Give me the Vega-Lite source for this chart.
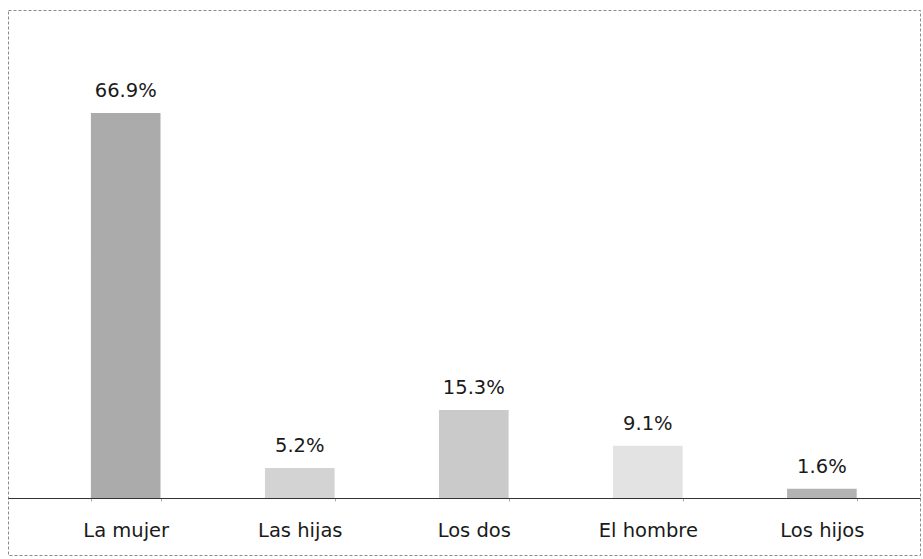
{
  "$schema": "https://vega.github.io/schema/vega-lite/v6.json",
  "width": 912,
  "height": 545,
  "autosize": {"type": "none"},
  "padding": {"left": 8, "top": 10, "right": 3, "bottom": 4},
  "background": "white",
  "config": {
    "view": {"stroke": "#8a8a8a", "strokeDash": [3, 2], "strokeWidth": 1},
    "font": "DejaVu Sans"
  },
  "data": {
    "values": [
      {"cat": "La mujer", "pct": 66.9, "label": "66.9%"},
      {"cat": "Las hijas", "pct": 5.2, "label": "5.2%"},
      {"cat": "Los dos", "pct": 15.3, "label": "15.3%"},
      {"cat": "El hombre", "pct": 9.1, "label": "9.1%"},
      {"cat": "Los hijos", "pct": 1.6, "label": "1.6%"}
    ]
  },
  "encoding": {
    "x": {
      "field": "cat",
      "type": "nominal",
      "sort": null,
      "scale": {"paddingInner": 0.6, "paddingOuter": 0.42, "align": 0.567},
      "axis": {
        "title": null,
        "orient": "bottom",
        "offset": -57,
        "labelAngle": 0,
        "labelFont": "DejaVu Sans",
        "labelFontSize": 19.5,
        "labelColor": "#1a1a1a",
        "labelPadding": 20,
        "tickBand": "extent",
        "tickSize": 3,
        "tickColor": "#aaa",
        "domainColor": "#333",
        "domainWidth": 1.2,
        "grid": false
      }
    },
    "y": {
      "field": "pct",
      "type": "quantitative",
      "scale": {"domain": [-9.9, 84.8], "nice": false, "zero": false},
      "axis": null
    }
  },
  "layer": [
    {
      "mark": {"type": "bar", "opacity": 1},
      "encoding": {
        "color": {
          "field": "cat",
          "type": "nominal",
          "scale": {
            "domain": ["La mujer", "Las hijas", "Los dos", "El hombre", "Los hijos"],
            "range": ["#ababab", "#d3d3d3", "#cacaca", "#e3e3e3", "#b3b3b3"]
          },
          "legend": null
        }
      }
    },
    {
      "mark": {"type": "text", "baseline": "alphabetic", "dy": -16, "fontSize": 19.5, "font": "DejaVu Sans", "color": "#1a1a1a"},
      "encoding": {"text": {"field": "label"}}
    }
  ]
}
